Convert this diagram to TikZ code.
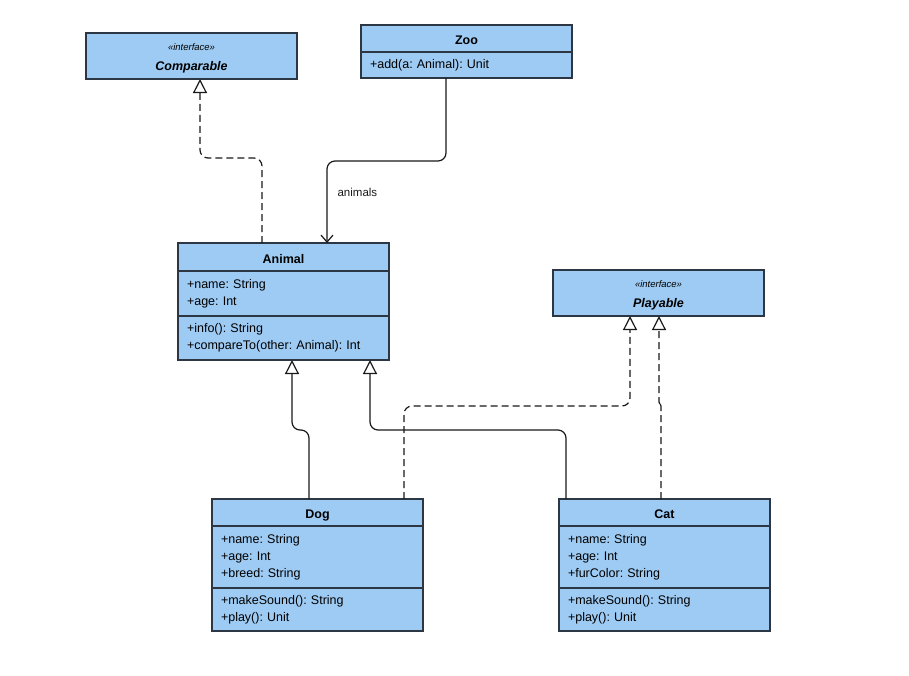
\documentclass[tikz,border=0pt]{standalone}
\usepackage{fontspec}
\setmainfont{Liberation Sans}
\usetikzlibrary{arrows.meta,positioning}
\frenchspacing
\definecolor{clsfill}{RGB}{158,203,243}
\definecolor{clsline}{RGB}{45,55,68}
\definecolor{wire}{RGB}{25,25,25}
\newcommand{\stereo}{{\fontsize{9.5}{11}\selectfont\mdseries\itshape\rule{0pt}{12pt}«interface»}}
\tikzset{
  box/.style={draw=clsline, fill=clsfill, line width=1.2pt, outer sep=0pt, inner sep=0pt,
    minimum width=211pt},
  hdr/.style={box, minimum height=27pt, text height=13pt, text depth=1pt,
    font=\fontsize{12.5}{15}\selectfont\bfseries},
  cmp/.style={box, inner xsep=9pt, text width=193pt, align=left,
    font=\fontsize{12.5}{17}\selectfont},
  ifc/.style={box, minimum height=46pt, align=center, font=\fontsize{12.5}{20}\selectfont\bfseries\itshape},
  gen/.style={wire, line width=1.2pt, rounded corners=8pt, -{Triangle[open, length=14pt, width=14pt]}},
  real/.style={gen, dash pattern=on 7pt off 4pt},
  asc/.style={wire, line width=1.2pt, rounded corners=8pt, -{Straight Barb[length=7pt, width=12pt]}},
  lbl/.style={font=\fontsize{11.5}{13}\selectfont, inner sep=0pt},
}
\begin{document}
\begin{tikzpicture}[x=1pt,y=-1pt]
  \useasboundingbox (0,0) rectangle (909,675);
  % interfaces
  \node[ifc, anchor=north west] (comparable) at (86,33) {\stereo\\Comparable};
  \node[ifc, anchor=north west] (playable) at (553,270) {\stereo\\Playable};
  % classes
  \node[hdr, anchor=north west] (zoo) at (361,25) {Zoo};
  \node[cmp, below=0pt of zoo, minimum height=26pt] (zoo-ops) {+add(a: Animal): Unit};
  \node[hdr, anchor=north west, minimum height=28pt] (animal) at (178,243) {Animal};
  \node[cmp, below=0pt of animal, minimum height=45pt] (animal-attr) {+name: String\\+age: Int};
  \node[cmp, below=0pt of animal-attr, minimum height=44pt] (animal-ops)
    {+info(): String\\+compareTo(other: Animal): Int};
  \node[hdr, anchor=north west] (dog) at (212,499) {Dog};
  \node[cmp, below=0pt of dog, minimum height=62pt] (dog-attr) {+name: String\\+age: Int\\+breed: String};
  \node[cmp, below=0pt of dog-attr, minimum height=43pt] (dog-ops) {+makeSound(): String\\+play(): Unit};
  \node[hdr, anchor=north west] (cat) at (559,499) {Cat};
  \node[cmp, below=0pt of cat, minimum height=62pt] (cat-attr) {+name: String\\+age: Int\\+furColor: String};
  \node[cmp, below=0pt of cat-attr, minimum height=43pt] (cat-ops) {+makeSound(): String\\+play(): Unit};
  % bends
  \coordinate (cmp-bend) at (200,158);
  \coordinate (zoo-bend) at (327,161);
  \coordinate (dog-bend) at (292,430);
  \coordinate (cat-bend) at (370,430);
  \coordinate (play-bend) at (630,406);
  \coordinate (cat-jog) at (659,404);
  % connectors
  \draw[real] ([xshift=84pt]animal.north west) |- (cmp-bend) -- ([xshift=114pt]comparable.south west);
  \draw[asc] ([xshift=85pt]zoo-ops.south west) |- (zoo-bend)
    -- node[lbl, pos=0.38, anchor=west, xshift=10pt] (animals-lbl) {animals} ([xshift=149pt]animal.north west);
  \draw[gen] ([xshift=97pt]dog.north west) |- (dog-bend) -- ([xshift=114pt]animal-ops.south west);
  \draw[gen] ([xshift=7pt]cat.north west) |- (cat-bend) -- ([xshift=192pt]animal-ops.south west);
  \draw[real] ([xshift=192pt]dog.north west) |- (play-bend) -- ([xshift=77pt]playable.south west);
  \draw[real, rounded corners=2pt] ([xshift=102pt]cat.north west) |- (cat-jog) -- (cat-jog |- playable.south);
\end{tikzpicture}
\end{document}
